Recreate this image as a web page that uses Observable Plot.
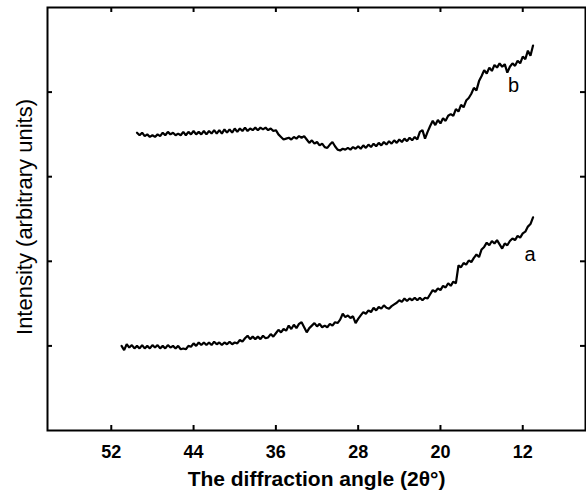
<!DOCTYPE html>
<html><head><meta charset="utf-8">
<script src="https://cdn.jsdelivr.net/npm/d3@7"></script>
<script src="https://cdn.jsdelivr.net/npm/@observablehq/plot@0.6"></script>
<style>body{margin:0;background:#fff} svg{display:block}</style>
</head><body><div id="chart"></div>
<script>
const angles = [
51,50.75,50.5,50.25,50,49.75,49.5,49.25,
49,48.75,48.5,48.25,48,47.75,47.5,47.25,
47,46.75,46.5,46.25,46,45.75,45.5,45.25,
45,44.75,44.5,44.25,44,43.75,43.5,43.25,
43,42.75,42.5,42.25,42,41.75,41.5,41.25,
41,40.75,40.5,40.25,40,39.75,39.5,39.25,
39,38.75,38.5,38.25,38,37.75,37.5,37.25,
37,36.75,36.5,36.25,36,35.75,35.5,35.25,
35,34.75,34.5,34.25,34,33.75,33.5,33.25,
33,32.75,32.5,32.25,32,31.75,31.5,31.25,
31,30.75,30.5,30.25,30,29.75,29.5,29.25,
29,28.75,28.5,28.25,28,27.75,27.5,27.25,
27,26.75,26.5,26.25,26,25.75,25.5,25.25,
25,24.75,24.5,24.25,24,23.75,23.5,23.25,
23,22.75,22.5,22.25,22,21.75,21.5,21.25,
21,20.75,20.5,20.25,20,19.75,19.5,19.25,
19,18.75,18.5,18.25,18,17.75,17.5,17.25,
17,16.75,16.5,16.25,16,15.75,15.5,15.25,
15,14.75,14.5,14.25,14,13.75,13.5,13.25,
13,12.75,12.5,12.25,12,11.75,11.5,11.25,
11];

const curveA = [
1.00,0.95,1.02,0.98,1.01,0.97,1.00,0.97,
1.01,0.97,1.00,0.97,1.01,0.98,1.01,0.97,
1.00,0.97,1.01,0.98,1.00,0.97,1.00,0.96,
0.97,0.96,1.00,0.99,1.03,1.00,1.04,1.01,
1.04,1.01,1.04,1.01,1.05,1.02,1.04,1.01,
1.04,1.02,1.05,1.02,1.04,1.03,1.07,1.05,
1.09,1.12,1.08,1.11,1.08,1.11,1.08,1.12,
1.09,1.10,1.14,1.11,1.15,1.19,1.16,1.20,
1.18,1.24,1.20,1.25,1.21,1.26,1.28,1.22,
1.16,1.21,1.24,1.27,1.23,1.26,1.22,1.24,
1.22,1.26,1.24,1.28,1.27,1.31,1.38,1.34,
1.36,1.33,1.35,1.27,1.32,1.36,1.40,1.38,
1.42,1.40,1.45,1.42,1.46,1.44,1.48,1.45,
1.44,1.47,1.49,1.51,1.54,1.52,1.56,1.53,
1.56,1.54,1.57,1.54,1.57,1.54,1.57,1.56,
1.61,1.66,1.64,1.68,1.66,1.71,1.69,1.74,
1.71,1.76,1.74,1.95,1.93,1.98,1.96,2.01,
1.99,2.04,2.08,2.05,2.14,2.17,2.22,2.19,
2.24,2.21,2.25,2.20,2.15,2.21,2.19,2.24,
2.27,2.25,2.30,2.28,2.33,2.35,2.41,2.44,
2.52];

const curveB = [
null,null,null,null,null,null,3.52,3.49,
3.52,3.48,3.50,3.47,3.49,3.47,3.50,3.48,
3.52,3.49,3.53,3.50,3.52,3.49,3.51,3.49,
3.53,3.49,3.53,3.50,3.54,3.50,3.53,3.50,
3.54,3.50,3.54,3.51,3.55,3.51,3.55,3.51,
3.56,3.52,3.56,3.52,3.57,3.53,3.57,3.54,
3.58,3.54,3.57,3.55,3.58,3.55,3.58,3.56,
3.58,3.55,3.57,3.54,3.55,3.50,3.47,3.44,
3.45,3.46,3.44,3.47,3.45,3.48,3.46,3.48,
3.44,3.40,3.43,3.39,3.41,3.37,3.39,3.35,
3.34,3.38,3.41,3.36,3.32,3.31,3.33,3.32,
3.34,3.32,3.35,3.33,3.36,3.33,3.37,3.34,
3.38,3.35,3.39,3.36,3.40,3.37,3.41,3.38,
3.42,3.39,3.43,3.40,3.44,3.41,3.45,3.42,
3.46,3.43,3.47,3.44,3.53,3.55,3.45,3.53,
3.60,3.66,3.61,3.67,3.63,3.69,3.66,3.72,
3.74,3.72,3.80,3.77,3.85,3.82,3.90,3.93,
3.98,4.05,4.02,4.13,4.19,4.26,4.22,4.29,
4.25,4.32,4.29,4.34,4.30,4.33,4.23,4.30,
4.34,4.31,4.37,4.34,4.42,4.39,4.49,4.43,
4.55];

const xTicks = [52, 44, 36, 28, 20, 12];
const yTicks = [1, 2, 3, 4];
const labelNames = ["a", "b"];
const labelAngles = [11.3, 12.9];
const labelValues = [2.08, 4.08];
const xTitle = "The diffraction angle (2θ°)";
const yTitle = "Intensity (arbitrary units)";

const rows = angles.map((x, i) => ({angle: x, a: curveA[i], b: curveB[i]}));
const labels = labelNames.map((n, i) => ({name: n, angle: labelAngles[i], value: labelValues[i]}));

const W = 586, H = 500, ML = 47, MR = 1, MT = 7, MB = 70, TL = 5;
const PW = W - ML - MR, PH = H - MT - MB;

const chart = Plot.plot({
  width: W, height: H,
  marginLeft: ML, marginRight: MR, marginTop: MT, marginBottom: MB,
  style: {fontFamily: "'Liberation Sans', Arial, sans-serif", background: "#fff", color: "#000", overflow: "visible"},
  x: {domain: [58.2, 5.9], axis: null},
  y: {domain: [0, 5], axis: null},
  marks: [
    Plot.ruleX(xTicks, {x: d => d, insetTop: PH - TL, stroke: "#000", strokeWidth: 2}),
    Plot.ruleX(xTicks, {x: d => d, insetBottom: PH - TL, stroke: "#000", strokeWidth: 2}),
    Plot.ruleY(yTicks, {y: d => d, insetRight: PW - TL, stroke: "#000", strokeWidth: 2}),
    Plot.ruleY(yTicks, {y: d => d, insetLeft: PW - TL, stroke: "#000", strokeWidth: 2}),
    Plot.axisX(xTicks, {tickSize: 0, tickPadding: 15, fontSize: 18, fontWeight: "bold", label: null}),
    Plot.line(rows, {x: "angle", y: "a", stroke: "#000", strokeWidth: 2.2, strokeLinejoin: "miter"}),
    Plot.line(rows, {x: "angle", y: "b", stroke: "#000", strokeWidth: 2.2, strokeLinejoin: "miter"}),
    Plot.text(labels, {x: "angle", y: "value", text: "name", fontSize: 20, fill: "#000"}),
    Plot.text([xTitle], {text: d => d, frameAnchor: "bottom", dy: 55, fontSize: 21, fontWeight: "bold", fill: "#000"}),
    Plot.text([yTitle], {text: d => d, frameAnchor: "left", textAnchor: "middle", rotate: -90, dx: -23, dy: -2, fontSize: 22, letterSpacing: "0.9px", fill: "#000"}),
    Plot.frame({stroke: "#000", strokeWidth: 2})
  ]
});
document.getElementById("chart").append(chart);
</script>
</body></html>
